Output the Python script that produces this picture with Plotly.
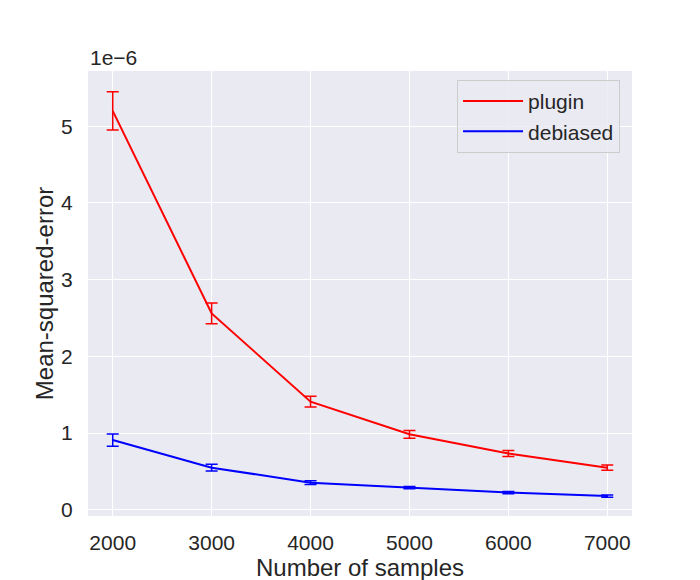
import plotly.graph_objects as go

# number of samples
samples = [2000, 3000, 4000, 5000, 6000, 7000]

# mean squared error, in units of 1e-6
plugin_mse = [5.20, 2.56, 1.41, 0.985, 0.735, 0.55]
plugin_err = [0.25, 0.135, 0.07, 0.05, 0.04, 0.035]

debiased_mse = [0.91, 0.55, 0.355, 0.29, 0.225, 0.18]
debiased_err = [0.08, 0.045, 0.025, 0.015, 0.015, 0.015]

font_family = "Liberation Sans, Arial, sans-serif"
text_color = "#262626"

fig = go.Figure()

fig.add_trace(go.Scatter(
    x=samples, y=plugin_mse, name="plugin", mode="lines",
    line=dict(color="red", width=2),
    error_y=dict(type="data", array=plugin_err, color="red", thickness=1.5, width=6),
))
fig.add_trace(go.Scatter(
    x=samples, y=debiased_mse, name="debiased", mode="lines",
    line=dict(color="blue", width=2),
    error_y=dict(type="data", array=debiased_err, color="blue", thickness=1.5, width=6),
))

# page has an 8px body margin, so left/top are trimmed by 8
fig.update_layout(
    width=700, height=580,
    margin=dict(l=80, r=76, t=63, b=72),
    paper_bgcolor="white",
    plot_bgcolor="#EAEAF2",
    font=dict(family=font_family, size=21, color=text_color),
    showlegend=True,
    legend=dict(
        x=0.978, y=0.98, xanchor="right", yanchor="top",
        bgcolor="rgba(234,234,242,0.8)", bordercolor="#CCCCCC", borderwidth=1,
        font=dict(size=21, color=text_color),
        itemwidth=60,
    ),
    annotations=[dict(
        text="1e\u22126", xref="paper", yref="paper", x=0, y=1.0,
        xanchor="left", yanchor="bottom", showarrow=False,
        font=dict(size=21, color=text_color), yshift=0,
    )],
)

fig.update_xaxes(
    range=[1750, 7250],
    tickvals=samples,
    showgrid=True, gridcolor="white", gridwidth=1.2,
    zeroline=False, showline=False,
    ticks="outside", ticklen=8, tickcolor="rgba(0,0,0,0)",
    title=dict(text="Number of samples", font=dict(size=24, color=text_color), standoff=0),
)
fig.update_yaxes(
    range=[-0.08, 5.72],
    tickvals=[0, 1, 2, 3, 4, 5],
    showgrid=True, gridcolor="white", gridwidth=1.2,
    zeroline=False, showline=False,
    ticks="outside", ticklen=10, tickcolor="rgba(0,0,0,0)",
    title=dict(text="Mean-squared-error", font=dict(size=24, color=text_color), standoff=0),
)

fig.write_html("out.html")
